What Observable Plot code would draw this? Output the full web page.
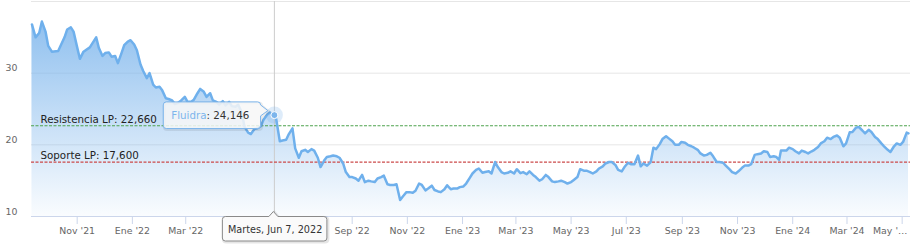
<!DOCTYPE html>
<html>
<head>
<meta charset="utf-8">
<script src="https://cdn.jsdelivr.net/npm/d3@7"></script>
<script src="https://cdn.jsdelivr.net/npm/@observablehq/plot@0.6"></script>
<style>
  html, body { margin: 0; padding: 0; background: #fff; }
  #chart svg { display: block; }
</style>
</head>
<body>
<div id="chart"></div>
<script>
// ---------- data ----------
const seriesName = "Fluidra";
const dates = [
"2021-09-12","2021-09-16","2021-09-20","2021-09-23","2021-09-27","2021-09-30","2021-10-04","2021-10-11","2021-10-18","2021-10-21",
"2021-10-25","2021-10-28","2021-11-01","2021-11-04","2021-11-08","2021-11-15","2021-11-22","2021-11-25","2021-11-29","2021-12-02",
"2021-12-06","2021-12-09","2021-12-13","2021-12-16","2021-12-20","2021-12-23","2021-12-27","2021-12-30","2022-01-03","2022-01-06",
"2022-01-10","2022-01-13","2022-01-17","2022-01-20","2022-01-24","2022-01-27","2022-01-31","2022-02-03","2022-02-07","2022-02-10",
"2022-02-14","2022-02-17","2022-02-21","2022-02-24","2022-02-28","2022-03-03","2022-03-07","2022-03-10","2022-03-14","2022-03-17",
"2022-03-21","2022-03-24","2022-03-28","2022-03-31","2022-04-04","2022-04-07","2022-04-11","2022-04-14","2022-04-18","2022-04-21",
"2022-04-25","2022-04-28","2022-05-02","2022-05-05","2022-05-09","2022-05-12","2022-05-16","2022-05-19","2022-05-23","2022-05-26",
"2022-05-30","2022-06-02","2022-06-07","2022-06-09","2022-06-13","2022-06-16","2022-06-20","2022-06-23","2022-06-27","2022-06-30",
"2022-07-04","2022-07-07","2022-07-11","2022-07-14","2022-07-18","2022-07-21","2022-07-25","2022-07-28","2022-08-01","2022-08-04",
"2022-08-08","2022-08-11","2022-08-15","2022-08-18","2022-08-22","2022-08-25","2022-08-29","2022-09-01","2022-09-05","2022-09-08",
"2022-09-12","2022-09-15","2022-09-19","2022-09-22","2022-09-26","2022-09-29","2022-10-03","2022-10-06","2022-10-10","2022-10-13",
"2022-10-17","2022-10-20","2022-10-24","2022-10-27","2022-10-31","2022-11-03","2022-11-07","2022-11-10","2022-11-14","2022-11-17",
"2022-11-21","2022-11-24","2022-11-28","2022-12-01","2022-12-05","2022-12-08","2022-12-12","2022-12-15","2022-12-19","2022-12-22",
"2022-12-26","2022-12-29","2023-01-02","2023-01-05","2023-01-09","2023-01-12","2023-01-16","2023-01-19","2023-01-23","2023-01-26",
"2023-01-30","2023-02-02","2023-02-06","2023-02-09","2023-02-13","2023-02-16","2023-02-20","2023-02-23","2023-02-27","2023-03-02",
"2023-03-06","2023-03-09","2023-03-13","2023-03-16","2023-03-20","2023-03-23","2023-03-27","2023-03-30","2023-04-03","2023-04-06",
"2023-04-10","2023-04-13","2023-04-17","2023-04-20","2023-04-24","2023-04-27","2023-05-01","2023-05-04","2023-05-08","2023-05-11",
"2023-05-15","2023-05-18","2023-05-22","2023-05-25","2023-05-29","2023-06-01","2023-06-05","2023-06-08","2023-06-12","2023-06-15",
"2023-06-19","2023-06-22","2023-06-26","2023-06-29","2023-07-03","2023-07-06","2023-07-10","2023-07-14","2023-07-17","2023-07-20",
"2023-07-24","2023-07-28","2023-07-31","2023-08-03","2023-08-07","2023-08-10","2023-08-14","2023-08-17","2023-08-21","2023-08-24",
"2023-08-28","2023-08-31","2023-09-04","2023-09-07","2023-09-11","2023-09-14","2023-09-18","2023-09-21","2023-09-25","2023-09-28",
"2023-10-02","2023-10-05","2023-10-09","2023-10-12","2023-10-16","2023-10-19","2023-10-23","2023-10-26","2023-10-30","2023-11-02",
"2023-11-06","2023-11-09","2023-11-13","2023-11-16","2023-11-20","2023-11-23","2023-11-27","2023-11-30","2023-12-04","2023-12-07",
"2023-12-11","2023-12-14","2023-12-17","2023-12-19","2023-12-25","2023-12-28","2024-01-01","2024-01-04","2024-01-08","2024-01-11",
"2024-01-15","2024-01-18","2024-01-22","2024-01-25","2024-01-29","2024-02-01","2024-02-05","2024-02-08","2024-02-12","2024-02-15",
"2024-02-19","2024-02-22","2024-02-26","2024-02-29","2024-03-04","2024-03-07","2024-03-11","2024-03-14","2024-03-18","2024-03-21",
"2024-03-25","2024-03-28","2024-04-01","2024-04-04","2024-04-08","2024-04-11","2024-04-15","2024-04-18","2024-04-22","2024-04-25",
"2024-04-29","2024-05-02","2024-05-06","2024-05-08"
];
const values = [
36.8,35.0,35.6,37.2,35.8,33.8,33.0,33.1,35.0,36.1,
36.4,35.8,33.6,32.0,33.0,33.6,35.0,33.5,32.4,32.8,
32.9,32.3,32.4,31.4,32.8,33.9,34.4,34.6,34.0,33.2,
31.2,30.3,29.3,30.0,28.4,28.0,28.1,27.6,26.5,26.4,
26.2,25.7,25.9,26.2,26.7,26.0,26.0,26.3,27.2,27.8,
27.4,26.7,27.2,26.2,26.0,25.6,26.1,25.5,26.0,25.4,
25.3,25.6,24.5,22.5,21.7,21.5,22.2,22.3,22.6,23.5,
24.2,24.5,24.146,23.6,20.5,20.6,20.7,21.5,22.3,19.5,
18.2,19.1,19.3,19.0,19.4,19.2,18.2,16.9,17.8,18.3,
18.4,18.5,18.4,18.2,17.4,16.2,15.5,15.5,15.3,15.0,
15.8,14.8,15.0,14.9,14.8,15.3,15.5,15.7,14.5,14.4,
14.4,14.5,12.3,12.8,13.4,13.4,13.3,13.6,14.6,14.4,
13.65,13.9,14.3,13.7,13.5,13.4,13.8,14.35,13.8,13.9,
13.9,14.1,14.2,14.6,15.4,16.0,16.5,16.7,16.1,16.2,
16.3,16.0,17.6,16.9,16.2,16.0,16.1,16.3,16.0,16.6,
16.05,16.2,15.9,16.3,15.8,15.5,15.0,15.2,15.8,15.5,
14.9,14.8,14.9,15.0,14.8,14.6,14.8,15.1,15.5,16.6,
16.4,16.4,16.2,16.0,16.3,16.7,17.0,17.4,17.6,17.6,
17.2,16.5,16.3,16.9,17.5,17.3,17.3,18.5,17.0,17.4,
17.1,17.6,19.6,19.4,20.1,20.8,21.2,20.9,20.5,20.0,
20.0,20.4,20.3,20.0,19.8,19.6,19.3,18.8,18.5,18.6,
18.9,18.4,17.6,17.6,17.5,17.1,16.6,16.2,16.0,16.3,
16.8,17.1,17.1,17.3,18.6,18.7,18.8,19.1,19.0,18.3,
18.4,18.3,17.9,19.2,19.2,19.6,19.4,19.1,18.8,19.2,
19.0,18.8,19.1,19.3,19.7,20.2,20.5,21.0,20.8,21.1,
21.3,21.0,19.8,20.2,21.75,21.8,22.4,22.5,22.0,21.6,
22.1,21.8,21.1,20.8,20.2,19.8,19.3,19.0,19.8,20.2,
20.0,20.4,21.7,21.6
];
const levelNames = ["Resistencia LP", "Soporte LP"];
const levelValues = [22.66, 17.6];
const levelColors = ["#4ea24e", "#cc4a4a"];
const tickDates = ["2021-11-01","2022-01-01","2022-03-01","2022-05-01","2022-07-01","2022-09-01","2022-11-01","2023-01-01",
                   "2023-03-01","2023-05-01","2023-07-01","2023-09-01","2023-11-01","2024-01-01","2024-03-01","2024-05-01"];
const tickLabels = ["Nov '21","Ene '22","Mar '22","May '22","Jul '22","Sep '22","Nov '22","Ene '23",
                    "Mar '23","May '23","Jul '23","Sep '23","Nov '23","Ene '24","Mar '24","May '…"];
// labels hidden behind the date tooltip in the reference
const coveredTickLabels = ["May '22", "Jul '22"];
const yTickValues = [10, 20, 30];
const yGridValues = [20, 30, 40];
const yDomain = [10, 40];
const xDomain = ["2021-09-11T12:00:00Z", "2024-05-10T05:00:00Z"];
const hoverDate = "2022-06-07";
const hoverValue = 24.146;
const hoverDateLabel = "Martes, Jun 7, 2022";

// ---------- build ----------
const parse = d3.utcParse("%Y-%m-%d");
const data = dates.map((d, i) => ({date: parse(d), value: values[i]}));
const levels = levelNames.map((n, i) => ({name: n, value: levelValues[i], color: levelColors[i]}));
const fmt = v => d3.format(".3f")(v).replace(".", ",");
const ticks = tickDates.map(parse);
const labelMap = new Map(ticks.map((d, i) => [+d, tickLabels[i]]));
const visibleTicks = ticks.filter(d => !coveredTickLabels.includes(labelMap.get(+d)));
const lastTick = visibleTicks[visibleTicks.length - 1];
const hover = [{date: parse(hoverDate), value: hoverValue}];
const seriesColor = "#7cb5ec";
const lineColor = "#6fb0ec";
const font = "DejaVu Sans";

// tooltip geometry relative to the hovered point (pixels)
const tipLeft = -110.6, tipRight = -13.3, tipTop = -12.7, tipBottom = 13.9;

const chart = Plot.plot({
  width: 912,
  height: 245,
  marginLeft: 31,
  marginRight: 2,
  marginTop: 1,
  marginBottom: 29,
  style: {fontFamily: font, fontSize: "9.4px", background: "#fff", color: "#666"},
  x: {type: "utc", domain: xDomain.map(d => new Date(d))},
  y: {domain: yDomain},
  marks: [
    Plot.gridY(yGridValues, {stroke: "#e6e6e6", strokeOpacity: 1}),
    Plot.areaY(data, {x: "date", y1: yDomain[0], y2: "value", fill: "url(#areaGrad)", curve: "linear"}),
    Plot.ruleX(hover, {x: "date", y1: yDomain[0], y2: yDomain[1], stroke: "#cccccc", strokeWidth: 1}),
    Plot.ruleY(levels, {y: "value", stroke: "color", strokeWidth: 1.2, strokeDasharray: "3,1.5"}),
    Plot.lineY(data, {x: "date", y: "value", stroke: lineColor, strokeWidth: 2.5, curve: "linear", strokeLinejoin: "round"}),
    Plot.text(levels, {frameAnchor: "left", y: "value", text: d => `${d.name}: ${fmt(d.value)}`,
      textAnchor: "start", dx: 9, dy: -6.5, fill: "#222", fontSize: 10.3}),
    Plot.ruleY([yDomain[0]], {stroke: "#ccd6eb", strokeWidth: 1}),
    Plot.axisX(ticks, {tickSize: 8, stroke: "#ccd6eb", text: null, label: null}),
    Plot.axisX(visibleTicks.slice(0, -1), {tickSize: 0, tickPadding: 11, fill: "#666", fontSize: 9.4,
      tickFormat: d => labelMap.get(+d), label: null}),
    Plot.axisX([lastTick], {tickSize: 0, tickPadding: 11, dx: -12, fill: "#666", fontSize: 9.4,
      tickFormat: d => labelMap.get(+d), label: null}),
    Plot.axisY(yTickValues, {tickSize: 0, tickPadding: 14, dy: -5, fill: "#666", fontSize: 9.4, label: null}),
    Plot.dot(hover, {x: "date", y: "value", r: 8.5, fill: seriesColor, fillOpacity: 0.25, stroke: "none"}),
    Plot.dot(hover, {x: "date", y: "value", r: 3.5, fill: seriesColor, stroke: "#fff", strokeWidth: 1}),
    // tooltip texts
    Plot.text(hover, {x: "date", y: "value", text: () => seriesName, textAnchor: "start", lineAnchor: "middle",
      dx: tipLeft + 7.5, dy: 0.8, fill: seriesColor, fontSize: 10.3}),
    Plot.text(hover, {x: "date", frameAnchor: "bottom", text: () => hoverDateLabel, textAnchor: "middle",
      lineAnchor: "middle", dx: 0.75, dy: 13.6, fill: "#333", fontSize: 9.7})
  ]
});

document.getElementById("chart").appendChild(chart);

// gradient for the area fill
const svg = d3.select(chart);
const defs = svg.insert("defs", ":first-child");
const grad = defs.append("linearGradient").attr("id", "areaGrad")
  .attr("x1", 0).attr("y1", 0).attr("x2", 0).attr("y2", 1);
grad.append("stop").attr("offset", 0).attr("stop-color", seriesColor).attr("stop-opacity", 0.85);
grad.append("stop").attr("offset", 1).attr("stop-color", seriesColor).attr("stop-opacity", 0.04);

// tooltips boxes positioned through the chart's own scales
const xs = chart.scale("x"), ys = chart.scale("y");
const px = xs.apply(hover[0].date), py = ys.apply(hover[0].value);
const axisY = ys.apply(yDomain[0]);
const texts = Array.from(chart.querySelectorAll("text"));
const nameText = texts.find(t => t.textContent === seriesName);
const dateText = texts.find(t => t.textContent === hoverDateLabel);

// value after the series name, in the same text element
d3.select(nameText).append("tspan").attr("fill", "#333").text(": " + fmt(hover[0].value));

function insertBefore(refNode) {
  const g = document.createElementNS("http://www.w3.org/2000/svg", "g");
  const parentG = refNode.closest("g") || refNode;
  parentG.parentNode.insertBefore(g, parentG);
  return d3.select(g);
}

// main tooltip (callout pointing right)
{
  const R = px + tipRight, L = px + tipLeft, T = py + tipTop, B = py + tipBottom, r = 3;
  const ax = px - 6, ay = py - 4;
  const path = `M${L + r},${T} L${R - r},${T} Q${R},${T} ${R},${T + r} L${R},${T + 3} L${ax},${ay} L${R},${T + 14} L${R},${B - r} Q${R},${B} ${R - r},${B} L${L + r},${B} Q${L},${B} ${L},${B - r} L${L},${T + r} Q${L},${T} ${L + r},${T} Z`;
  const g = insertBefore(nameText);
  g.append("path").attr("d", path).attr("transform", "translate(1,1)")
    .attr("fill", "none").attr("stroke", "rgba(0,0,0,0.08)").attr("stroke-width", 3);
  g.append("path").attr("d", path).attr("fill", "rgba(247,247,247,0.85)")
    .attr("stroke", seriesColor).attr("stroke-width", 1);
}

// x crosshair label box (below axis with notch up)
{
  const L = px - 51.5, R = px + 53, T = axisY + 0.5, B = axisY + 25, r = 3;
  const path = `M${L + r},${T} L${px - 5},${T} L${px - 0.5},${T - 5} L${px + 4},${T} L${R - r},${T} Q${R},${T} ${R},${T + r} L${R},${B - r} Q${R},${B} ${R - r},${B} L${L + r},${B} Q${L},${B} ${L},${B - r} L${L},${T + r} Q${L},${T} ${L + r},${T} Z`;
  const g = insertBefore(dateText);
  g.append("path").attr("d", path).attr("transform", "translate(1,1)")
    .attr("fill", "none").attr("stroke", "rgba(0,0,0,0.1)").attr("stroke-width", 3);
  g.append("path").attr("d", path).attr("fill", "#fafafa").attr("stroke", "#8a8a8a").attr("stroke-width", 1);
}
</script>
</body>
</html>
